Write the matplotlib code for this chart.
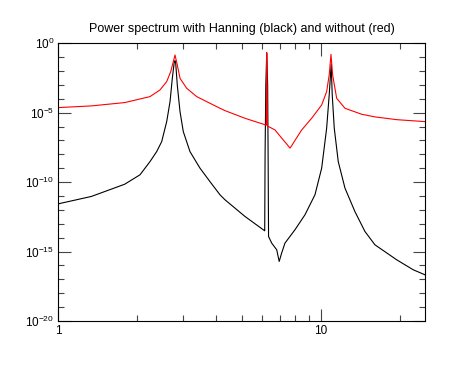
import math
import matplotlib
matplotlib.use("Agg")
import matplotlib.pyplot as plt
from matplotlib.ticker import FixedLocator, NullFormatter, FuncFormatter

plt.rcParams['font.family'] = ['Liberation Sans', 'DejaVu Sans']
plt.rcParams['mathtext.fontset'] = 'custom'
plt.rcParams['mathtext.rm'] = 'Liberation Sans'
plt.rcParams['mathtext.it'] = 'Liberation Sans'

# frequency / log10(power)
freq_red = [1.00, 1.336, 1.79, 2.048, 2.236, 2.441, 2.589, 2.682, 2.744, 2.785,
            2.841, 2.910, 3.086, 3.369, 3.785, 4.133, 4.319, 5.147, 6.10, 6.20,
            6.23, 6.26, 6.698, 7.20, 7.42, 7.64, 7.80, 7.98, 8.466, 9.241,
            10.09, 10.54, 10.78, 10.95, 11.11, 11.51, 12.38, 14.33, 16.10,
            19.49, 24.98]
logp_red = [-4.63, -4.51, -4.27, -4.01, -3.84, -3.36, -2.76, -2.04, -1.32, -0.84,
            -1.56, -2.52, -3.24, -3.84, -4.32, -4.68, -4.85, -5.40, -5.85, -5.90,
            -0.67, -5.95, -6.24, -6.96, -7.25, -7.55, -7.30, -7.00, -6.24, -5.40,
            -4.44, -3.48, -2.28, -0.80, -2.28, -3.96, -4.68, -5.11, -5.30,
            -5.50, -5.64]

freq_blk = [1.00, 1.336, 1.79, 2.048, 2.236, 2.371, 2.478, 2.589, 2.666, 2.720,
            2.768, 2.785, 2.802, 2.841, 2.910, 2.995, 3.176, 3.467, 3.785, 4.133,
            4.319, 5.147, 6.096, 6.12, 6.14, 6.18, 6.23, 6.28, 6.31, 6.33,
            6.508, 6.80, 6.95, 7.10, 7.31, 7.98, 8.714, 9.513, 10.09, 10.54,
            10.78, 10.97, 11.07, 11.27, 11.67, 12.38, 13.51, 14.75, 16.10,
            19.49, 22.54, 24.98]
logp_blk = [-11.56, -11.03, -10.15, -9.47, -8.52, -7.80, -7.08, -5.64, -4.20, -2.52,
            -1.32, -1.25, -1.44, -3.00, -4.92, -6.36, -7.80, -8.99, -9.96, -10.91,
            -11.27, -12.47, -13.48, -13.50, -8.0, -3.0, -0.72, -3.0, -9.0, -13.91,
            -14.39, -14.87, -15.71, -15.11, -14.39, -13.43, -12.35, -10.91, -8.99, -6.12,
            -3.72, -1.50, -3.72, -6.12, -8.52, -10.43, -12.12, -13.55, -14.51,
            -15.59, -16.31, -16.67]

power_red = [10 ** v for v in logp_red]
power_blk = [10 ** v for v in logp_blk]

fig = plt.figure(figsize=(4.61, 3.69), dpi=100)
ax = fig.add_axes([0.1265, 0.130, 0.7955, 0.7527])

ax.plot(freq_blk, power_blk, color="black", lw=0.8)
ax.plot(freq_red, power_red, color="#ff0000", lw=0.8)

ax.set_xscale("log")
ax.set_yscale("log")
ax.set_xlim(1, 25)
ax.set_ylim(1e-20, 1)

ax.xaxis.set_major_locator(FixedLocator([1, 10]))
ax.xaxis.set_minor_locator(FixedLocator([2, 3, 4, 5, 6, 7, 8, 9, 20]))
ax.xaxis.set_major_formatter(FuncFormatter(lambda v, p: "%d" % round(v)))
ax.xaxis.set_minor_formatter(NullFormatter())

ax.yaxis.set_major_locator(FixedLocator([10.0 ** k for k in range(-20, 1, 5)]))
ax.yaxis.set_minor_locator(FixedLocator([10.0 ** k for k in range(-20, 1) if k % 5]))
ax.yaxis.set_major_formatter(FuncFormatter(lambda v, p: r"$10^{%d}$" % round(math.log10(v))))
ax.yaxis.set_minor_formatter(NullFormatter())

ax.tick_params(which="both", direction="in", top=True, right=True,
               labelsize=8.5, color="#444444", width=0.8)
ax.tick_params(which="major", length=9)
ax.tick_params(which="minor", length=4.3)
ax.tick_params(axis="both", pad=3)
for s in ax.spines.values():
    s.set_linewidth(0.8)

ax.set_title("Power spectrum with Hanning (black) and without (red)", fontsize=9, pad=8)

fig.savefig("out.png", dpi=100)
